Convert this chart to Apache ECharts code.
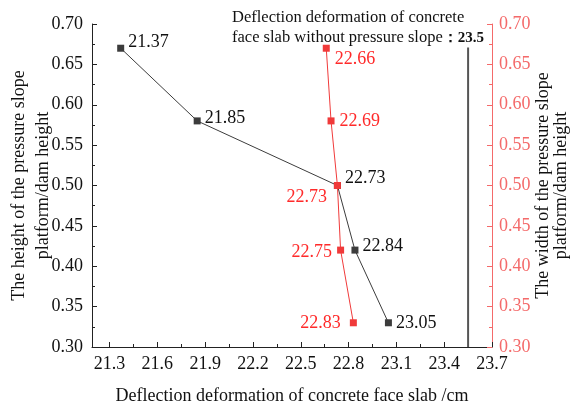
<!DOCTYPE html>
<html><head><meta charset="utf-8">
<script src="https://cdn.jsdelivr.net/npm/echarts@6/dist/echarts.min.js"></script>
<style>html,body{margin:0;padding:0;background:#fff}#c{width:572px;height:409px}</style>
</head><body><div id="c"></div>
<script>
// data
var heights = [0.67, 0.58, 0.50, 0.42, 0.33];
var heightDeflection = [21.37, 21.85, 22.73, 22.84, 23.05];
var widthDeflection = [22.66, 22.69, 22.73, 22.75, 22.83];
var xTicks = [21.3, 21.6, 21.9, 22.2, 22.5, 22.8, 23.1, 23.4, 23.7];
var xMinorTicks = [21.45, 21.75, 22.05, 22.35, 22.65, 22.95, 23.25, 23.55];
var noSlopeDeflection = 23.55;
var noSlopeLabel = '23.5';
var refLineTop = 0.671;

var F = 'Liberation Serif';
var black = '#3c3c3c', red = '#f03a3a', axisRed = '#f46a6a';

var blackPos = ['right','right','right','right','right'];
var redPos = ['right','right','left','left','left'];
var redOff = [[0,11],[0,0],[-2,12],[0,2],[-4,0]];
var blackOff = [[0,-6],[0,-3],[0,-7],[0,-4],[0,0]];

function pts(xs, pos, off) {
  return xs.map(function (x, i) {
    return {value: [x, heights[i]], label: {position: pos[i], offset: off[i]}};
  });
}
function rt(col, s) { return {a: {fontFamily: F, fontSize: s || 18, color: col}}; }

var chart = echarts.init(document.getElementById('c'));
chart.setOption({
  animation: false,
  textStyle: {fontFamily: F},
  title: {
    text: 'Deflection deformation of concrete\nface slab without pressure slope{b|：' + noSlopeLabel + '}',
    left: 227, top: 3,
    textStyle: {fontFamily: F, fontSize: 16.5, fontWeight: 'normal', color: '#111', lineHeight: 20,
      rich: {b: {fontFamily: F, fontSize: 15, fontWeight: 'bold', color: '#111'}}}
  },
  grid: {left: 92, right: 80, top: 24, bottom: 62, containLabel: false, outerBoundsMode: 'none'},
  xAxis: [{
    type: 'value', min: 21.19, max: 23.7,
    name: 'Deflection deformation of concrete face slab /cm',
    nameLocation: 'middle', nameGap: 40, nameMoveOverlap: false,
    nameTextStyle: {fontFamily: F, fontSize: 18, color: '#111'},
    axisLine: {lineStyle: {color: '#222', width: 1}},
    axisTick: {inside: true, length: 5, customValues: xTicks, lineStyle: {color: '#222'}},
    axisLabel: {customValues: xTicks, margin: 8,
      formatter: function (v) { return '{a|' + v.toFixed(1) + '}'; }, rich: rt('#111')},
    splitLine: {show: false}
  }, {
    type: 'value', min: 21.19, max: 23.7, position: 'bottom',
    axisLine: {show: false},
    axisTick: {inside: true, length: 3, customValues: xMinorTicks, lineStyle: {color: '#222'}},
    axisLabel: {show: false}, splitLine: {show: false}
  }],
  yAxis: [{
    type: 'value', min: 0.3, max: 0.7, interval: 0.05,
    name: 'The height of the pressure slope\nplatform/dam height',
    nameLocation: 'middle', nameGap: 37, nameRotate: 90, nameMoveOverlap: false,
    nameTextStyle: {fontFamily: F, fontSize: 18, color: '#111', lineHeight: 24},
    axisLine: {show: true, lineStyle: {color: '#222'}},
    axisTick: {inside: true, length: 5, lineStyle: {color: '#222'}},
    minorTick: {show: true, splitNumber: 2, length: 3, lineStyle: {color: '#222'}},
    axisLabel: {margin: 9,
      formatter: function (v) { return '{a|' + v.toFixed(2) + '}'; }, rich: rt('#111')},
    splitLine: {show: false}
  }, {
    type: 'value', min: 0.3, max: 0.7, interval: 0.05, position: 'right',
    name: 'The width of the pressure slope\nplatform/dam height',
    nameLocation: 'middle', nameGap: 42, nameRotate: 90, nameMoveOverlap: false,
    nameTextStyle: {fontFamily: F, fontSize: 18, color: '#111', lineHeight: 18},
    axisLine: {show: true, lineStyle: {color: axisRed}},
    axisTick: {inside: true, length: 5, lineStyle: {color: axisRed}},
    minorTick: {show: true, splitNumber: 2, length: 3, lineStyle: {color: axisRed}},
    axisLabel: {margin: 7,
      formatter: function (v) { return '{a|' + v.toFixed(2) + '}'; }, rich: rt(axisRed)},
    splitLine: {show: false}
  }],
  series: [{
    type: 'line', xAxisIndex: 0, yAxisIndex: 0,
    data: pts(heightDeflection, blackPos, blackOff),
    symbol: 'rect', symbolSize: 7,
    itemStyle: {color: black}, lineStyle: {color: black, width: 1},
    label: {show: true, distance: 4,
      formatter: function (p) { return '{a|' + p.value[0].toFixed(2) + '}'; }, rich: rt('#111')},
    z: 3
  }, {
    type: 'line', xAxisIndex: 0, yAxisIndex: 1,
    data: pts(widthDeflection, redPos, redOff),
    symbol: 'rect', symbolSize: 7,
    itemStyle: {color: red}, lineStyle: {color: red, width: 1},
    label: {show: true, distance: 5,
      formatter: function (p) { return '{a|' + p.value[0].toFixed(2) + '}'; }, rich: rt('#ff2a2a')},
    z: 4
  }, {
    type: 'line', xAxisIndex: 0, yAxisIndex: 0,
    data: [[noSlopeDeflection, 0.3], [noSlopeDeflection, refLineTop]],
    symbol: 'none', lineStyle: {color: '#555', width: 2}, silent: true
  }]
});
</script></body></html>
